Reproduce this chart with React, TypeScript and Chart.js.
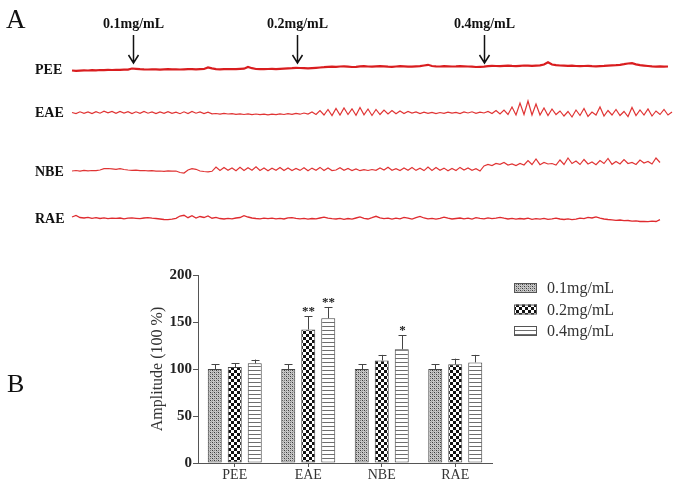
import React, { useEffect, useRef } from 'react';
import { Chart, registerables } from 'chart.js';
Chart.register(...registerables);

// ---------------- Panel A data (trace deviations from each trace's resting level) ----------------
const TRACE_NAMES = ['PEE', 'EAE', 'NBE', 'RAE'];
const SAMPLE_STEP = 4; // time units between samples

const PEE = [
  -0.5, -0.8, -0.6, -0.4, -0.5, -0.2, -0.3, 0, -0.1, 0.1, 0, 0.2, 0.1, 0.3, 0.4,
  1.5, 1.2,
  0.8, 0.6, 0.5, 0.7, 0.6, 0.4, 0.6, 0.8, 0.7, 0.6, 0.5, 0.7, 0.9, 0.8, 0.7, 0.9, 1.0,
  2.6, 1.6,
  0.8, 0.7, 0.9, 0.8, 1.0, 0.9, 1.1, 1.3,
  3.0, 1.8,
  1.0, 0.9, 0.8, 1.0, 1.1, 0.9, 1.2, 1.4, 1.6, 1.8,
  2.2, 2.0,
  1.8, 1.6, 1.9, 2.2, 2.5, 2.8, 3.2,
  3.4, 3.2, 3.5, 3.6, 3.3, 3.0, 3.2, 3.6, 3.8, 3.5, 3.3, 3.6, 3.9, 3.7, 3.4, 3.2, 3.5, 3.8, 3.6, 3.4, 3.3, 3.6, 3.8, 4.5,
  5.2, 4.0,
  3.6, 3.5, 3.8, 3.7, 3.5, 3.6, 3.9, 3.7, 3.5, 3.3, 3.0, 3.2,
  3.4, 3.8, 4.1, 4.0, 3.8, 4.2, 4.4, 4.1, 3.9, 4.2, 4.5, 4.3, 4.1, 4.4, 4.6, 5.5,
  7.8, 5.5,
  4.8, 4.5, 4.3, 4.1, 4.3, 4.0, 3.8, 4.0, 4.2, 3.9, 3.7, 3.9, 4.1, 4.4, 4.6, 4.8, 5.2, 5.8,
  6.5, 6.8,
  5.6, 4.8, 4.4, 4.0, 3.6, 3.4, 3.7, 3.3, 3.5,
];

const EAE = [
  0.5, -0.5, 1.2, -0.3, 1.0, -0.6, 1.4, -0.2, 1.8, 0.2, 1.6, -0.4, 1.5, 0, 1.3, -0.5, 1.2, -0.3, 1.6, -0.2,
  1.1, -0.6, 1.0, -0.4, 1.4, -0.3, 0.9, -0.7, 1.2, -0.5, 1.6, -0.2, 1.0, -0.6, 0.8, -0.8,
  -0.5, -1.2, -0.3, -1.0, -0.6, -1.4, -0.8, -1.5, -0.9, -1.6, -1.0, -1.7, -1.1, -1.8, -1.2, -1.6, -0.9, -1.5,
  -0.7, -1.4, -0.4, -1.2, 0, -1.0,
  1.0, -1.5, 2.5, -2.0, 3.5,
  -2.5, 4.5, -2.0, 5.0, -1.5, 4.2, -2.2, 5.5, -1.8, 4.0, -2.5, 3.5, -1.5, 3.0,
  -1.0, 2.5, -0.8, 2.0, -0.5, 1.5,
  0, 1.0, -0.5, 0.8, -0.3, 0.6, -0.6, 0.5, -0.4, 0.8, -0.2, 0.6, -0.5, 1.0, 0, 1.2, -0.3, 0.8, 0, 1.5,
  -0.5, 2.5, -1.0, 3.0, -1.5,
  6.0, -2.0, 10.0, -1.5, 12.0, -2.0, 9.0,
  -2.0, 5.0, -2.5, 4.0, -1.5,
  2.0, -3.0, 1.5, -4.0, 3.0, -2.5, 4.5, -3.5, 1.0, -2.0, 6.0, -3.0, 2.5, -2.0, 3.5, -2.5, 1.5, -3.5, 5.5, -2.5,
  3.0, -2.0, 4.0, -3.0, 2.0, -1.5, 3.5, -2.0, 1.0,
];

const NBE = [
  0.5, 1.0, 0.3, 1.2, 0.6, 1.0, 0.8, 1.5, 2.8, 3.0, 2.6, 2.2, 2.8, 2.0, 1.5, 1.2, 1.4, 0.8, 1.0, 0.6,
  0.8, 0.4, 0.5, 0.2, 0.6, 0.3, 0.5, -1.0, -1.5, 1.5, 2.8, 2.2, 0.5, 0, -0.3, 0.2,
  4.5, 1.0, 4.0, 1.2, 3.5, 0.8, 4.2, 1.0, 3.8, 1.3, 4.6, 1.0, 3.6, 0.8, 3.2, 1.2, 4.0, 1.0, 3.5, 0.9,
  3.0, 1.1, 3.8, 0.8, 3.4, 1.2, 4.1, 1.0, 3.6, 0.9,
  1.5, 3.8, 1.2, 3.0, 1.0, 2.6, 0.8, 1.8, 1.0, 2.0, 1.2, 3.5, 1.4, 4.2, 1.2, 2.8, 1.0, 3.6, 1.3, 4.0,
  1.1, 3.2, 0.9, 4.4, 1.0, 3.9, 1.2, 3.4, 0.8, 3.0, 1.0, 4.1, 1.5, 3.6, 1.2, 2.8, 0.5,
  5.5, 7.0, 6.0, 8.0, 7.2,
  9.0, 6.5, 7.5, 6.0, 8.0, 6.5, 11.0, 7.0, 12.5, 6.8, 9.0, 7.5, 8.0, 6.5, 11.5, 7.0, 13.5, 8.0, 10.5, 7.0,
  12.0, 7.5, 9.5, 6.8, 11.0, 8.0, 13.0, 7.2, 10.0, 7.5, 12.0, 8.0, 9.0, 7.0, 11.5, 8.5, 10.0, 7.5, 13.5, 9.0,
];

const RAE = [
  1.5, 3.0, 1.0, 0.5, 1.2, 0.2, 0.8, 0, 0.6, -0.2, 0.4, 0.1, 0.5, -0.3, 0.3, 0.6, 0.2, -0.2, 0.5, 0.8,
  0.3, 0, -0.5, -1.0, -1.2, -0.6, 0.2,
  2.5, 3.2, 0.8, 2.8, 0.5, 2.0, 1.0, 2.5, 0.3, 1.2,
  0, -0.5, 0.2, -0.3, 0.5, 1.0, 2.8, 1.5, 0.5, 0, -0.3, 0.4, -0.2, 0.3, -0.4, 0.2, -0.5, 0.6, 0.9, 0.2,
  -0.3, 0.1, -0.6, 0, -0.4, 0.5, 1.4, 0.4, -0.2,
  -0.5, 0.2, -0.8, 0, -0.6, 0.5, 1.6, 0.2, -0.5, 0.8, 2.2, 0.6, -0.2, 0.3, -0.7, 0.4, -0.3, 1.2, 0.4, -0.6,
  0.8, 2.0, 0.5, -0.4, 0.2, -0.6, 0.1, 1.4, 0.3, -0.5,
  0, 0.5, -0.4, 0.3, -0.6, 0.8, 0.2, -0.3, 0.6, -0.2, 0.4, 1.2, 0.3, -0.5, 0.1, -0.7, 0, -0.5, 0.3, -0.8,
  -0.2, -0.6, 0.2, -0.9, -0.3, 0.4, -0.5, -1.0, -0.4, -1.2,
  -0.6, 0.4, -0.2, 1.2, 0.5, 1.6, 0.3, -0.5, -1.0, -1.4, -1.8, -1.5, -2.2, -2.0, -2.6, -2.4, -3.0, -2.8, -3.2, -2.6,
  -3.0, -1.2,
];

const DOSE_LABELS = ['0.1mg/mL', '0.2mg/mL', '0.4mg/mL'];
const DOSE_TIMES = [61, 225, 412];

// ---------------- Panel B data ----------------
const CATEGORIES = ['PEE', 'EAE', 'NBE', 'RAE'];
const SERIES_NAMES = ['0.1mg/mL', '0.2mg/mL', '0.4mg/mL'];
const AMP_01 = [100, 100, 100, 100];
const AMP_02 = [102, 142, 109, 105];
const AMP_04 = [106, 154, 121, 107];
const ERR_01 = [5, 5, 5, 5];
const ERR_02 = [4, 14, 6, 6];
const ERR_04 = [4, 12, 15, 8];
const SIG_01 = ['', '', '', ''];
const SIG_02 = ['', '**', '', ''];
const SIG_04 = ['', '**', '*', ''];
const Y_TICKS = [0, 50, 100, 150, 200];

// ---------------- layout / style ----------------
const SERIF = '"Liberation Serif", "Times New Roman", serif';
const TRACE_LEVELS = [170, 127, 68.5, 21.5]; // vertical placement of each trace on the hidden axis
const TRACE_COLORS = ['#d91d1f', '#e03434', '#e03434', '#df2b2f'];
const TRACE_WIDTHS = [2.2, 1.2, 1.2, 1.3];

function makePattern(kind: number): CanvasPattern | string {
  const c = document.createElement('canvas');
  if (kind === 0) {
    c.width = 4; c.height = 4;
    const g = c.getContext('2d')!;
    g.fillStyle = '#c8c8c8'; g.fillRect(0, 0, 4, 4);
    g.fillStyle = '#3a3a3a'; g.fillRect(0, 0, 1, 1); g.fillRect(2, 2, 1, 1);
    g.fillStyle = '#7a7a7a'; g.fillRect(2, 0, 1, 1); g.fillRect(0, 2, 1, 1);
    g.fillStyle = '#a8a8a8'; g.fillRect(1, 1, 1, 1); g.fillRect(3, 3, 1, 1);
    return g.createPattern(c, 'repeat') || '#999';
  }
  if (kind === 1) {
    c.width = 6; c.height = 6;
    const g = c.getContext('2d')!;
    g.fillStyle = '#ffffff'; g.fillRect(0, 0, 6, 6);
    g.fillStyle = '#111111'; g.fillRect(0, 0, 3, 3); g.fillRect(3, 3, 3, 3);
    return g.createPattern(c, 'repeat') || '#666';
  }
  c.width = 4; c.height = 4;
  const g = c.getContext('2d')!;
  g.fillStyle = '#ffffff'; g.fillRect(0, 0, 4, 4);
  g.fillStyle = '#6e6e6e'; g.fillRect(0, 0, 4, 1);
  return g.createPattern(c, 'repeat') || '#ccc';
}

const panelAPlugin = {
  id: 'panelA',
  afterDraw(chart: any) {
    const ctx = chart.ctx;
    const xs = chart.scales.x;
    const ys = chart.scales.y;
    ctx.save();
    ctx.fillStyle = '#111';
    ctx.font = `27px ${SERIF}`;
    ctx.textBaseline = 'alphabetic';
    ctx.textAlign = 'left';
    ctx.fillText('A', 6, 28);
    // trace labels
    ctx.font = `bold 14px ${SERIF}`;
    ctx.textBaseline = 'middle';
    chart.data.datasets.forEach((ds: any, k: number) => {
      ctx.fillText(ds.label, 35, ys.getPixelForValue(TRACE_LEVELS[k]) + 0.5);
    });
    // dose arrows
    ctx.strokeStyle = '#111';
    ctx.lineWidth = 1.5;
    DOSE_TIMES.forEach((t, i) => {
      const x = Math.round(xs.getPixelForValue(t)) + 0.5;
      ctx.beginPath();
      ctx.moveTo(x, 35);
      ctx.lineTo(x, 63);
      ctx.moveTo(x - 5, 55);
      ctx.lineTo(x, 63);
      ctx.lineTo(x + 5, 55);
      ctx.stroke();
      ctx.textAlign = 'center';
      ctx.textBaseline = 'middle';
      ctx.fillText(DOSE_LABELS[i], x, 24);
    });
    ctx.restore();
  },
};

const panelBPlugin = {
  id: 'panelB',
  afterDatasetsDraw(chart: any) {
    const ctx = chart.ctx;
    const ys = chart.scales.y;
    ctx.save();
    chart.data.datasets.forEach((ds: any, i: number) => {
      const meta = chart.getDatasetMeta(i);
      meta.data.forEach((bar: any, j: number) => {
        const top = ys.getPixelForValue(ds.data[j] + ds.errors[j]);
        const x = Math.round(bar.x) + 0.5;
        ctx.strokeStyle = '#444';
        ctx.lineWidth = 1;
        ctx.beginPath();
        ctx.moveTo(x, bar.y);
        ctx.lineTo(x, top);
        ctx.moveTo(x - 4, Math.round(top) + 0.5);
        ctx.lineTo(x + 4, Math.round(top) + 0.5);
        ctx.stroke();
        if (ds.sig[j]) {
          ctx.fillStyle = '#222';
          ctx.font = `bold 13px ${SERIF}`;
          ctx.textAlign = 'center';
          ctx.textBaseline = 'alphabetic';
          ctx.fillText(ds.sig[j], x, top - 1);
        }
      });
    });
    ctx.restore();
  },
  afterDraw(chart: any) {
    const ctx = chart.ctx;
    ctx.save();
    ctx.fillStyle = '#111';
    ctx.font = `26px ${SERIF}`;
    ctx.textAlign = 'left';
    ctx.textBaseline = 'alphabetic';
    ctx.fillText('B', 7, 142);
    chart.data.datasets.forEach((ds: any, i: number) => {
      const y = 38 + i * 21.5;
      ctx.fillStyle = ds.backgroundColor;
      ctx.fillRect(514, y - 5, 23, 10);
      ctx.strokeStyle = '#555';
      ctx.lineWidth = 1;
      ctx.strokeRect(514.5, y - 4.5, 22, 9);
      ctx.fillStyle = '#333';
      ctx.font = `16px ${SERIF}`;
      ctx.textBaseline = 'middle';
      ctx.fillText(ds.label, 547, y + 1);
    });
    ctx.restore();
  },
};

export default function App() {
  const refA = useRef<HTMLCanvasElement>(null);
  const refB = useRef<HTMLCanvasElement>(null);

  useEffect(() => {
    const traces = [PEE, EAE, NBE, RAE];
    const chartA = new Chart(refA.current!, {
      type: 'line',
      data: {
        datasets: traces.map((arr, k) => ({
          label: TRACE_NAMES[k],
          data: arr.map((v, i) => ({ x: i * SAMPLE_STEP, y: TRACE_LEVELS[k] + v })),
          borderColor: TRACE_COLORS[k],
          borderWidth: TRACE_WIDTHS[k],
          pointRadius: 0,
          tension: 0,
          clip: false,
        })),
      },
      options: {
        animation: false,
        responsive: false,
        devicePixelRatio: 1,
        layout: { padding: { left: 72, right: 5, top: 30, bottom: 10 } },
        plugins: { legend: { display: false }, tooltip: { enabled: false } },
        scales: {
          x: { type: 'linear', min: 0, max: 600, display: false },
          y: { type: 'linear', min: 0, max: 210, display: false },
        },
      },
      plugins: [panelAPlugin],
    } as any);

    const series = [
      { values: AMP_01, errs: ERR_01, sig: SIG_01 },
      { values: AMP_02, errs: ERR_02, sig: SIG_02 },
      { values: AMP_04, errs: ERR_04, sig: SIG_04 },
    ];
    const chartB = new Chart(refB.current!, {
      type: 'bar',
      data: {
        labels: CATEGORIES,
        datasets: series.map((s, i) => ({
          label: SERIES_NAMES[i],
          data: s.values,
          errors: s.errs,
          sig: s.sig,
          backgroundColor: makePattern(i),
          borderColor: '#444',
          borderWidth: 1,
          borderSkipped: false,
          categoryPercentage: 0.816,
          barPercentage: 0.7,
        })),
      },
      options: {
        animation: false,
        responsive: false,
        devicePixelRatio: 1,
        layout: { padding: { left: 144, right: 185, top: 25, bottom: 0 } },
        plugins: { legend: { display: false }, tooltip: { enabled: false } },
        scales: {
          x: {
            grid: { display: true, drawOnChartArea: false, offset: false, tickLength: 4, color: '#555' },
            border: { color: '#555', width: 1 },
            ticks: { font: { family: SERIF, size: 14 }, color: '#333', padding: 0 },
            afterFit(s: any) { s.height = 31; },
          },
          y: {
            min: 0,
            max: 200,
            afterBuildTicks(s: any) { s.ticks = Y_TICKS.map((v) => ({ value: v })); },
            ticks: { font: { family: SERIF, size: 15, weight: 'bold' }, color: '#222', padding: 1 },
            grid: { display: true, drawOnChartArea: false, tickLength: 5, color: '#555' },
            border: { color: '#555', width: 1 },
            title: {
              display: true,
              text: 'Amplitude (100 %)',
              font: { family: SERIF, size: 16 },
              color: '#333',
              padding: { top: 4, bottom: 4 },
            },
            afterFit(s: any) { s.width = 54; },
          },
        },
      },
      plugins: [panelBPlugin],
    } as any);

    return () => {
      chartA.destroy();
      chartB.destroy();
    };
  }, []);

  return (
    <div style={{ position: 'fixed', left: 0, top: 0, width: 677, height: 494, background: '#fff' }}>
      <canvas ref={refA} width={677} height={250} style={{ position: 'absolute', left: 0, top: 0, width: 677, height: 250 }} />
      <canvas ref={refB} width={677} height={244} style={{ position: 'absolute', left: 0, top: 250, width: 677, height: 244 }} />
    </div>
  );
}
